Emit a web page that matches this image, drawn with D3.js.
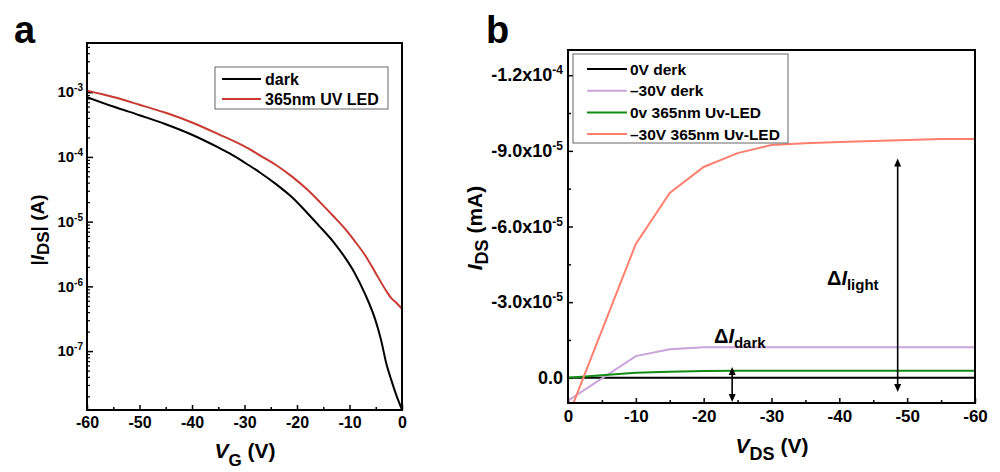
<!DOCTYPE html>
<html>
<head>
<meta charset="utf-8">
<script src="https://cdn.jsdelivr.net/npm/d3@7"></script>
<style>
  body { margin: 0; background: #fff; }
  svg { display: block; }
  text { font-family: "Liberation Sans", Arial, sans-serif; font-weight: bold; fill: #000; }
</style>
</head>
<body>
<svg id="chart" width="1000" height="472"></svg>
<script>
// ---------- Panel a: transfer curves |I_DS| vs V_G ----------
const darkVG  = [-60, -55, -50, -45, -40, -35, -33, -30, -27, -24, -21, -18, -16, -13, -11, -9, -7, -5, -4, -3, -2, -1, 0];
const darkIDS = [8.4e-4, 6.0e-4, 4.4e-4, 3.2e-4, 2.2e-4, 1.4e-4, 1.15e-4, 8.2e-5, 5.7e-5, 3.8e-5, 2.4e-5, 1.35e-5, 9.0e-6,
                 4.8e-6, 2.9e-6, 1.6e-6, 7.5e-7, 2.9e-7, 1.5e-7, 6.5e-8, 3.5e-8, 2.0e-8, 1.25e-8];
const uvVG  = [-60, -55, -50, -45, -40, -35, -30, -27, -24, -21, -18, -15.5, -13, -11, -9, -7, -5, -3, -2, -1, 0];
const uvIDS = [1.05e-3, 8.4e-4, 6.4e-4, 4.8e-4, 3.4e-4, 2.25e-4, 1.45e-4, 1.05e-4, 7.5e-5, 5.0e-5, 3.1e-5, 1.95e-5,
               1.2e-5, 8.0e-6, 5.0e-6, 3.0e-6, 1.6e-6, 8.5e-7, 6.5e-7, 5.5e-7, 4.5e-7];
const aXTicks = [-60, -50, -40, -30, -20, -10, 0];
const aYTickExps = [-3, -4, -5, -6, -7];
const legendA = ["dark", "365nm UV LED"];

// ---------- Panel b: output curves I_DS vs V_DS ----------
const vdsSweep  = [0, -10, -15, -20, -25, -30, -35, -40, -45, -50, -55, -60];
const ids0Dark  = [0, 0, 0, 0, 0, 0, 0, 0, 0, 0, 0, 0];
const ids30Dark = [9.1e-6, -8.6e-6, -1.13e-5, -1.21e-5, -1.21e-5, -1.21e-5, -1.21e-5, -1.21e-5, -1.21e-5, -1.21e-5, -1.21e-5, -1.21e-5];
const ids0UV    = [0, -2.0e-6, -2.4e-6, -2.7e-6, -2.8e-6, -2.8e-6, -2.8e-6, -2.8e-6, -2.8e-6, -2.8e-6, -2.8e-6, -2.8e-6];
const ids30UV   = [1.55e-5, -5.31e-5, -7.33e-5, -8.36e-5, -8.91e-5, -9.23e-5, -9.30e-5, -9.35e-5, -9.39e-5, -9.43e-5, -9.47e-5, -9.47e-5];
const bXTicks = [0, -10, -20, -30, -40, -50, -60];
const bYTicks = [-1.2e-4, -9.0e-5, -6.0e-5, -3.0e-5, 0];
const legendB = ["0V derk", "\u201330V derk", "0v 365nm Uv-LED", "\u201330V 365nm Uv-LED"];
// double arrows marking the photo-current change: [V_DS, from I, to I]
const deltaDark  = [-24.2, 9.6e-6, -4.3e-6];
const deltaLight = [-48.6, 5.6e-6, -8.7e-5];

const colorsA = ["#000000", "#c83a32"];
const colorsB = ["#000000", "#c9a3da", "#138a13", "#ff7f6f"];

const svg = d3.select("#chart");

// helper: "10" with superscript exponent
function superscript(textSel, base, exp, supSize, rise) {
  textSel.text(null);
  textSel.append("tspan").text(base);
  textSel.append("tspan").attr("dy", -rise).attr("font-size", supSize).text(exp);
}

function frame(g, x0, x1, y0, y1) {
  g.append("rect").attr("x", x0).attr("y", y0).attr("width", x1 - x0).attr("height", y1 - y0)
    .attr("fill", "none").attr("stroke", "#000").attr("stroke-width", 2);
}

// ================= Panel a =================
const ax = d3.scaleLinear().domain([-60, 0]).range([87, 402]);
const ay = d3.scaleLog().domain([1.23e-8, 5.75e-3]).range([410, 43]);
const ga = svg.append("g");

ga.append("clipPath").attr("id", "clipA").append("rect")
  .attr("x", 87).attr("y", 43).attr("width", 315).attr("height", 367);

// minor x ticks
ga.append("g").attr("transform", "translate(0,410)")
  .call(d3.axisBottom(ax).tickValues(d3.range(-55, 0, 10)).tickSize(-3).tickFormat(""))
  .call(g => g.select(".domain").remove())
  .call(g => g.selectAll("line").attr("stroke-width", 1.5));
// major x ticks
ga.append("g").attr("transform", "translate(0,410)")
  .call(d3.axisBottom(ax).tickValues(aXTicks).tickSize(-5).tickPadding(7))
  .call(g => g.select(".domain").remove())
  .call(g => g.selectAll("line").attr("stroke-width", 1.5))
  .call(g => g.selectAll("text").attr("font-size", 16).attr("fill", "#000").text(d => d === 0 ? "0" : "-" + Math.abs(d)));

// minor log y ticks
const minorA = [];
for (let e = -9; e <= -3; e++) for (let m = 2; m <= 9; m++) {
  const v = m * Math.pow(10, e);
  if (v > ay.domain()[0] && v < ay.domain()[1]) minorA.push(v);
}
ga.append("g").attr("transform", "translate(87,0)")
  .call(d3.axisLeft(ay).tickValues(minorA).tickSize(-3).tickFormat(""))
  .call(g => g.select(".domain").remove())
  .call(g => g.selectAll("line").attr("stroke-width", 1.2));
ga.append("g").attr("transform", "translate(87,0)")
  .call(d3.axisLeft(ay).tickValues(aYTickExps.map(e => Math.pow(10, e))).tickSize(-6).tickPadding(4).tickFormat(""))
  .call(g => g.select(".domain").remove())
  .call(g => g.selectAll("line").attr("stroke-width", 1.5))
  .call(g => g.selectAll(".tick text").attr("font-size", 15).attr("fill", "#000")
    .each(function (d) { superscript(d3.select(this), "10", String(Math.round(Math.log10(d))), 10, 6); }));

// curves
const lineA = d3.line().x(d => ax(d[0])).y(d => ay(d[1])).curve(d3.curveMonotoneX);
const seriesA = [d3.zip(darkVG, darkIDS), d3.zip(uvVG, uvIDS)];
ga.append("g").attr("clip-path", "url(#clipA)").selectAll("path").data(seriesA).join("path")
  .attr("d", lineA).attr("fill", "none").attr("stroke", (d, i) => colorsA[i]).attr("stroke-width", 2);

frame(ga, 87, 402, 43, 410);

// legend a
const legA = ga.append("g");
legA.append("rect").attr("x", 215).attr("y", 67).attr("width", 173).attr("height", 42)
  .attr("fill", "#fff").attr("stroke", "#666").attr("stroke-width", 1);
legendA.forEach((name, i) => {
  const y = 79 + i * 20;
  legA.append("line").attr("x1", 222).attr("x2", 261).attr("y1", y).attr("y2", y)
    .attr("stroke", colorsA[i]).attr("stroke-width", 2);
  legA.append("text").attr("x", 265).attr("y", y + 6).attr("font-size", 16).text(name);
});

// axis titles a
const ylabA = ga.append("text").attr("transform", "translate(44,230) rotate(-90)")
  .attr("text-anchor", "middle").attr("font-size", 19);
ylabA.append("tspan").text("|");
ylabA.append("tspan").attr("font-style", "italic").text("I");
ylabA.append("tspan").attr("font-size", 17).attr("dy", 5).text("DS");
ylabA.append("tspan").attr("dy", -5).text("| (A)");

const xlabA = ga.append("text").attr("x", 245).attr("y", 458).attr("text-anchor", "middle").attr("font-size", 21);
xlabA.append("tspan").attr("font-style", "italic").text("V");
xlabA.append("tspan").attr("font-size", 17).attr("dy", 8).text("G");
xlabA.append("tspan").attr("dy", -8).text(" (V)");

ga.append("text").attr("x", 14).attr("y", 43).attr("font-size", 38).text("a");

// ================= Panel b =================
const bx = d3.scaleLinear().domain([0, -60]).range([568, 975]);
const by = d3.scaleLinear().domain([1.0e-5, -1.3e-4]).range([403, 50]);
const gb = svg.append("g");

gb.append("clipPath").attr("id", "clipB").append("rect")
  .attr("x", 568).attr("y", 50).attr("width", 407).attr("height", 353);

gb.append("g").attr("transform", "translate(0,403)")
  .call(d3.axisBottom(bx).tickValues(d3.range(-5, -60, -10)).tickSize(-3).tickFormat(""))
  .call(g => g.select(".domain").remove())
  .call(g => g.selectAll("line").attr("stroke-width", 1.5));
gb.append("g").attr("transform", "translate(0,403)")
  .call(d3.axisBottom(bx).tickValues(bXTicks).tickSize(-5).tickPadding(7))
  .call(g => g.select(".domain").remove())
  .call(g => g.selectAll("line").attr("stroke-width", 1.5))
  .call(g => g.selectAll("text").attr("font-size", 17).attr("fill", "#000").text(d => d === 0 ? "0" : "-" + Math.abs(d)));

gb.append("g").attr("transform", "translate(568,0)")
  .call(d3.axisLeft(by).tickValues([-1.05e-4, -7.5e-5, -4.5e-5, -1.5e-5]).tickSize(-3).tickFormat(""))
  .call(g => g.select(".domain").remove())
  .call(g => g.selectAll("line").attr("stroke-width", 1.5));
gb.append("g").attr("transform", "translate(568,0)")
  .call(d3.axisLeft(by).tickValues(bYTicks).tickSize(-5).tickPadding(5).tickFormat(""))
  .call(g => g.select(".domain").remove())
  .call(g => g.selectAll("line").attr("stroke-width", 1.5))
  .call(g => g.selectAll(".tick text").attr("font-size", 18).attr("fill", "#000")
    .each(function (d) {
      const t = d3.select(this);
      if (d === 0) { t.text("0.0"); return; }
      const e = Math.floor(Math.log10(Math.abs(d)) + 1e-9);
      const m = (d / Math.pow(10, e)).toFixed(1);
      superscript(t, m + "x10", String(e), 12, 7);
    }));

const lineB = d3.line().x(d => bx(d[0])).y(d => by(d[1]));
const seriesB = [ids0Dark, ids30Dark, ids0UV, ids30UV].map(s => d3.zip(vdsSweep, s));
gb.append("g").attr("clip-path", "url(#clipB)").selectAll("path").data(seriesB).join("path")
  .attr("d", lineB).attr("fill", "none").attr("stroke", (d, i) => colorsB[i]).attr("stroke-width", 2);

// double-headed arrows
function doubleArrow(g, spec) {
  const x = bx(spec[0]), yb = by(spec[1]), yt = by(spec[2]);
  const head = 8, half = 3.5;
  g.append("line").attr("x1", x).attr("x2", x).attr("y1", yt + head - 1).attr("y2", yb - head + 1)
    .attr("stroke", "#000").attr("stroke-width", 1.6);
  g.append("path").attr("d", `M${x},${yt}L${x - half},${yt + head}L${x + half},${yt + head}Z`).attr("fill", "#000");
  g.append("path").attr("d", `M${x},${yb}L${x - half},${yb - head}L${x + half},${yb - head}Z`).attr("fill", "#000");
}
doubleArrow(gb, deltaDark);
doubleArrow(gb, deltaLight);

function deltaLabel(g, x, y, sub) {
  const t = g.append("text").attr("x", x).attr("y", y).attr("font-size", 20);
  t.append("tspan").text("\u0394");
  t.append("tspan").attr("font-style", "italic").text("I");
  t.append("tspan").attr("font-size", 15).attr("dy", 5).text(sub);
}
deltaLabel(gb, 714, 343, "dark");
deltaLabel(gb, 827, 285, "light");

frame(gb, 568, 975, 50, 403);

// legend b
const legB = gb.append("g");
legB.append("rect").attr("x", 573).attr("y", 54).attr("width", 215).attr("height", 89)
  .attr("fill", "#fff").attr("stroke", "#666").attr("stroke-width", 1);
legendB.forEach((name, i) => {
  const y = 69 + i * 21.7;
  legB.append("line").attr("x1", 587).attr("x2", 627).attr("y1", y).attr("y2", y)
    .attr("stroke", colorsB[i]).attr("stroke-width", 2);
  legB.append("text").attr("x", 630).attr("y", y + 5.5).attr("font-size", 15.5).text(name);
});

const ylabB = gb.append("text").attr("transform", "translate(482,228) rotate(-90)")
  .attr("text-anchor", "middle").attr("font-size", 21);
ylabB.append("tspan").attr("font-style", "italic").text("I");
ylabB.append("tspan").attr("font-size", 18).attr("dy", 6).text("DS");
ylabB.append("tspan").attr("dy", -6).text(" (mA)");

const xlabB = gb.append("text").attr("x", 772).attr("y", 453).attr("text-anchor", "middle").attr("font-size", 21);
xlabB.append("tspan").attr("font-style", "italic").text("V");
xlabB.append("tspan").attr("font-size", 18).attr("dy", 7).text("DS");
xlabB.append("tspan").attr("dy", -7).text(" (V)");

gb.append("text").attr("x", 486).attr("y", 43).attr("font-size", 38).text("b");
</script>
</body>
</html>
